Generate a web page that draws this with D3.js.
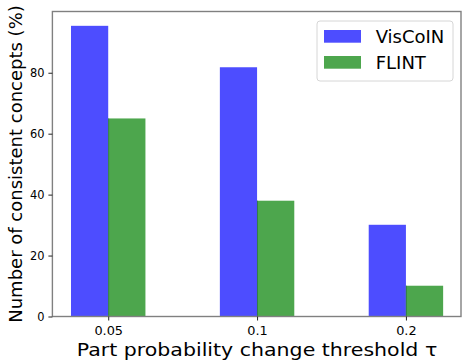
<!DOCTYPE html>
<html>
<head>
<meta charset="utf-8">
<script src="https://cdn.jsdelivr.net/npm/d3@7"></script>
<style>
  body { margin: 0; background: #fff; }
  svg text { font-family: "DejaVu Sans", sans-serif; fill: #000; }
</style>
</head>
<body>
<div id="chart"></div>
<script>
// thresholds on the x axis
const thresholds = ['0.05', '0.1', '0.2'];
const seriesNames = ['VisCoIN', 'FLINT'];
const viscoinValues = [95.4, 81.8, 30.1];
const flintValues = [65.0, 38.0, 10.1];
const yTicks = [0, 20, 40, 60, 80];

const colors = {VisCoIN: 'rgb(77,77,255)', FLINT: 'rgb(77,166,77)'};

const width = 462, height = 360;
const margin = {top: 11.5, right: 1, bottom: 43.5, left: 52.4};

const svg = d3.select('#chart').append('svg')
  .attr('width', width)
  .attr('height', height);

// x runs over category index, bars 0.25 wide either side of the tick
const x = d3.scaleLinear().domain([-0.375, 2.37]).range([margin.left, width - margin.right]);
const y = d3.scaleLinear().domain([0, 100.1]).range([height - margin.bottom, margin.top]);
const barW = 0.25;

const rows = thresholds.map((t, i) => ({t, i, VisCoIN: viscoinValues[i], FLINT: flintValues[i]}));

// VisCoIN bars sit left of the tick, FLINT bars right of it
svg.append('g').selectAll('rect')
  .data(rows)
  .join('rect')
  .attr('x', d => x(d.i - barW))
  .attr('y', d => y(d.VisCoIN))
  .attr('width', d => x(d.i) - x(d.i - barW))
  .attr('height', d => y(0) - y(d.VisCoIN))
  .attr('fill', colors.VisCoIN);

svg.append('g').selectAll('rect')
  .data(rows)
  .join('rect')
  .attr('x', d => x(d.i))
  .attr('y', d => y(d.FLINT))
  .attr('width', d => x(d.i + barW) - x(d.i))
  .attr('height', d => y(0) - y(d.FLINT))
  .attr('fill', colors.FLINT);

// thin dark seam where the two bars meet
svg.append('g').selectAll('line')
  .data(rows)
  .join('line')
  .attr('x1', d => x(d.i) + 0.4)
  .attr('x2', d => x(d.i) + 0.4)
  .attr('y1', d => y(d.FLINT))
  .attr('y2', y(0))
  .attr('stroke', 'rgb(40,110,70)')
  .attr('stroke-width', 0.8);

// frame
svg.append('rect')
  .attr('x', margin.left)
  .attr('y', margin.top)
  .attr('width', width - margin.right - margin.left)
  .attr('height', height - margin.bottom - margin.top)
  .attr('fill', 'none')
  .attr('stroke', '#808080')
  .attr('stroke-width', 1.4);

// axes
const xAxis = svg.append('g')
  .attr('transform', `translate(0, ${y(0)})`)
  .call(d3.axisBottom(x).tickValues([0, 1, 2]).tickFormat((d, i) => thresholds[i]).tickSize(4).tickPadding(6));

const yAxis = svg.append('g')
  .attr('transform', `translate(${margin.left}, 0)`)
  .call(d3.axisLeft(y).tickValues(yTicks).tickSize(4).tickPadding(4));

[xAxis, yAxis].forEach(a => {
  a.select('.domain').remove();
  a.selectAll('.tick line').attr('stroke', '#222').attr('stroke-width', 1);
  a.selectAll('.tick text').style('font-size', '11.4px').attr('fill', '#222');
});
// the x tick labels are a bit wider in the reference
xAxis.selectAll('.tick text').attr('transform', 'scale(1.13,1)');

// axis labels
svg.append('text')
  .attr('transform', `translate(257, 355.5) scale(1.14,1)`)
  .attr('text-anchor', 'middle')
  .style('font-size', '18px')
  .text('Part probability change threshold \u03c4');

svg.append('text')
  .attr('transform', `translate(22, ${(margin.top + height - margin.bottom) / 2}) rotate(-90)`)
  .attr('text-anchor', 'middle')
  .style('font-size', '18px')
  .text('Number of consistent concepts (%)');

// legend
const legend = svg.append('g').attr('transform', 'translate(317, 21)');
legend.append('rect')
  .attr('width', 136)
  .attr('height', 60)
  .attr('rx', 3)
  .attr('fill', '#fff')
  .attr('fill-opacity', 0.8)
  .attr('stroke', '#d6d6d6');

seriesNames.forEach((name, i) => {
  const g = legend.append('g').attr('transform', `translate(0, ${i * 26})`);
  g.append('rect')
    .attr('x', 7).attr('y', 9)
    .attr('width', 37).attr('height', 12.7)
    .attr('fill', colors[name]);
  g.append('text')
    .attr('x', 58.7).attr('y', 21.5)
    .style('font-size', '18px')
    .text(name);
});
</script>
</body>
</html>
